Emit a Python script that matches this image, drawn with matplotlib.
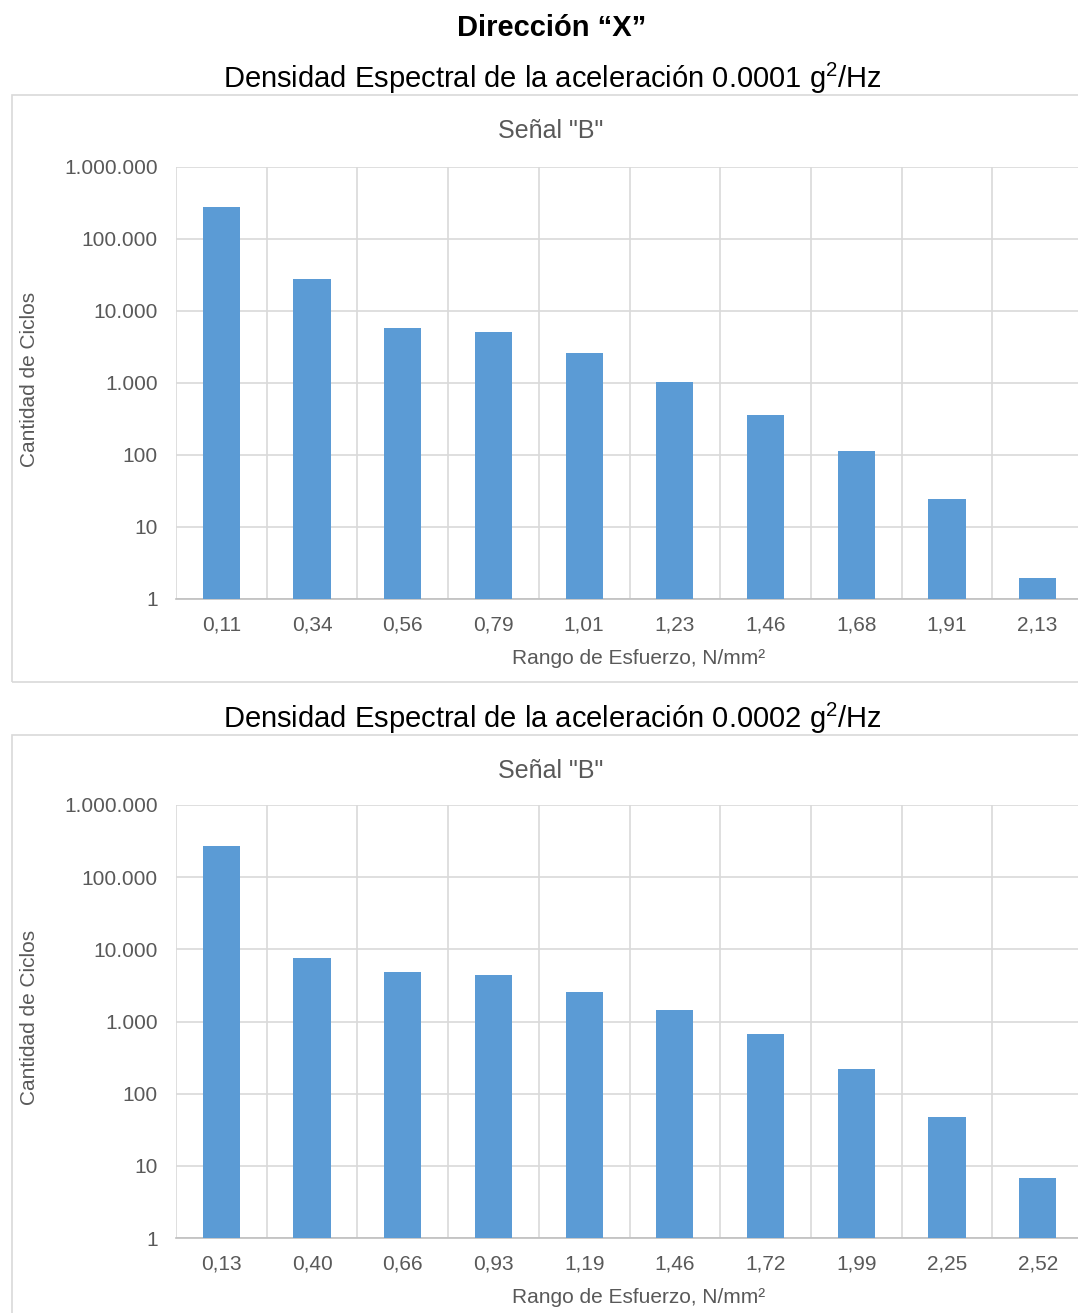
import numpy as np
import matplotlib
matplotlib.use("Agg")
from matplotlib import pyplot as plt
from matplotlib.patches import Rectangle
from matplotlib.ticker import FixedLocator, NullLocator

plt.rcParams['font.family'] = ['Liberation Sans', 'DejaVu Sans']
plt.rcParams['mathtext.fontset'] = 'custom'
plt.rcParams['mathtext.rm'] = 'Liberation Sans'
plt.rcParams['mathtext.it'] = 'Liberation Sans:italic'

# data
labels_1 = ["0,11", "0,34", "0,56", "0,79", "1,01", "1,23", "1,46", "1,68", "1,91", "2,13"]
ciclos_1 = [277000, 27800, 5800, 5100, 2620, 1030, 360, 114, 24.5, 1.96]

labels_2 = ["0,13", "0,40", "0,66", "0,93", "1,19", "1,46", "1,72", "1,99", "2,25", "2,52"]
ciclos_2 = [269000, 7560, 4820, 4380, 2560, 1440, 670, 219, 47.5, 6.8]

subtitles = [r"Densidad Espectral de la aceleración 0.0001 g$^\mathrm{2}$/Hz",
             r"Densidad Espectral de la aceleración 0.0002 g$^\mathrm{2}$/Hz"]

BLUE = "#5B9BD5"
GRID = "#D9D9D9"
GRAY = "#595959"

W, H = 1078, 1313
fig = plt.figure(figsize=(W / 100, H / 100), dpi=100)


def fx(px):
    return px / W


def fy(py):
    return 1 - py / H


def fmt(v):
    return f"{int(v):,}".replace(",", ".")


def draw_chart(labels, values, subtitle, box_top, box_bottom, ax_top, ax_bottom):
    # subtitle above the box
    fig.text(fx(552), fy(box_top - 17), subtitle, ha='center', va='center',
             fontsize=21, color='black')
    # chart box
    fig.patches.append(Rectangle((fx(12), fy(box_bottom)), fx(1100 - 12),
                                 (box_bottom - box_top) / H, transform=fig.transFigure,
                                 facecolor='none', edgecolor=GRID, lw=1.2, zorder=-1))
    fig.text(fx(551), fy(box_top + 36), 'Señal "B"', ha='center', va='center',
             fontsize=18, color=GRAY)
    fig.text(fx(30), fy((ax_top + ax_bottom) / 2 - 4), "Cantidad de Ciclos",
             rotation=90, ha='center', va='center', fontsize=15, color=GRAY)

    left, right = 176, 1083
    ax = fig.add_axes([fx(left), fy(ax_bottom), (right - left) / W, (ax_bottom - ax_top) / H])
    ax.patch.set_alpha(0)
    x = np.arange(len(labels))
    ax.bar(x, values, width=0.41, color=BLUE, zorder=3)
    ax.set_yscale('log')
    ax.set_ylim(1, 1e6)
    ax.set_xlim(-0.5, len(labels) - 0.5)
    yt = [10 ** k for k in range(7)]
    ax.yaxis.set_major_locator(FixedLocator(yt))
    ax.yaxis.set_minor_locator(NullLocator())
    ax.set_yticklabels([fmt(v) for v in yt])
    ax.set_xticks(x)
    ax.set_xticklabels(labels)
    ax.set_xticks(np.arange(len(labels) + 1) - 0.5, minor=True)
    ax.grid(True, which='major', axis='y', color=GRID, lw=1.2, zorder=0)
    ax.grid(True, which='minor', axis='x', color=GRID, lw=1.2, zorder=0)
    ax.tick_params(axis='both', which='both', length=0, labelsize=15, colors=GRAY)
    ax.tick_params(axis='x', pad=12)
    ax.tick_params(axis='y', pad=13)
    for s in ['top', 'right', 'left']:
        ax.spines[s].set_visible(False)
    ax.spines['bottom'].set_color('#BFBFBF')
    ax.spines['bottom'].set_linewidth(1.2)
    ax.set_xlabel("Rango de Esfuerzo, N/mm²", fontsize=15, color=GRAY)
    ax.xaxis.set_label_coords((639 - left) / (right - left), -50 / (ax_bottom - ax_top))
    return ax


fig.text(fx(552), fy(28), "Dirección “X”", ha='center', va='center',
         fontsize=21, fontweight='bold', color='black')

draw_chart(labels_1, ciclos_1, subtitles[0], 95, 682, 167, 599)
draw_chart(labels_2, ciclos_2, subtitles[1], 735, 1340, 805, 1238)

fig.savefig("out.png", dpi=100)
